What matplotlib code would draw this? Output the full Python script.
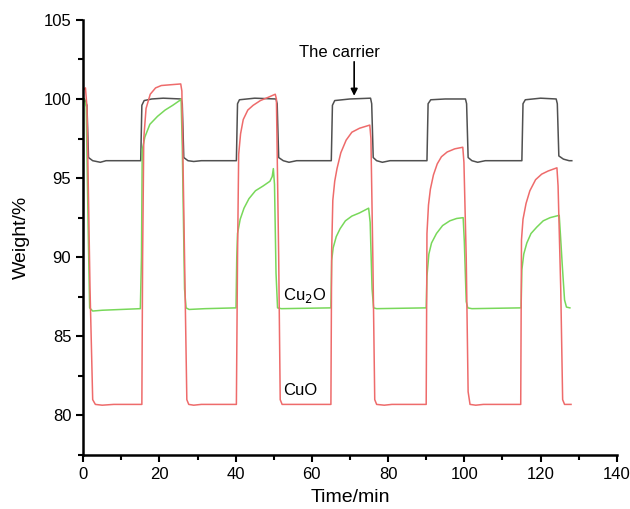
import numpy as np
import matplotlib
matplotlib.use("Agg")
import matplotlib.pyplot as plt
from matplotlib.ticker import MultipleLocator

plt.rcParams['font.family'] = ['Liberation Sans', 'DejaVu Sans']

# --- data (time in min, weight in %) ---
carrier_t = [0.3, 1.0, 1.4, 2.5, 4.5, 6, 15.1, 15.4, 16.0, 18, 21, 25.7, 26.0, 26.4, 27.5, 29, 31,
             40.2, 40.5, 41, 45, 50.6, 50.9, 51.3, 52.5, 54, 56,
             65.1, 65.4, 66, 70, 75.4, 75.7, 76.1, 77, 78.5, 80.5,
             90.2, 90.5, 91.2, 95, 100.3, 100.6, 101, 102, 103.5, 105.5,
             115.1, 115.4, 116, 120, 124.1, 124.4, 124.8, 126, 127.5, 128.2]
carrier_w = [100.0, 99.6, 96.3, 96.1, 96.0, 96.1, 96.1, 99.6, 99.9, 100.0, 100.05, 100.0, 99.7, 96.3, 96.1, 96.05, 96.1,
             96.1, 99.7, 99.95, 100.05, 100.0, 99.7, 96.3, 96.1, 96.0, 96.1,
             96.1, 99.6, 99.9, 100.0, 100.05, 99.7, 96.3, 96.1, 96.0, 96.1,
             96.1, 99.7, 99.95, 100.0, 100.0, 99.7, 96.3, 96.1, 96.0, 96.1,
             96.1, 99.7, 99.95, 100.05, 100.0, 99.7, 96.4, 96.2, 96.1, 96.1]

cuo_t = [0.2, 0.6, 1.0, 1.8, 2.5, 3.2, 5, 8, 15.4, 15.6, 15.9, 16.5, 17.6, 19, 20.5, 23, 25.6, 25.9, 26.6, 27.2, 27.7, 29, 31,
         40.2, 40.5, 40.8, 41.3, 42, 43.2, 44.6, 46.5, 48.5, 50.4, 50.7, 51.3, 51.7, 52.2, 54,
         65.0, 65.2, 65.5, 66.0, 66.6, 67.6, 69, 70.5, 72.5, 75.2, 75.5, 76.0, 76.5, 77, 79, 81,
         90.0, 90.2, 90.6, 91.1, 91.9, 92.9, 94, 95.5, 97.5, 99.6, 99.9, 100.5, 101, 101.5, 103, 105,
         114.8, 115.0, 115.4, 116.2, 117.2, 118.7, 120.3, 122, 124.3, 124.6, 125.3, 125.8, 126.3, 128.0]
cuo_w = [100.6, 100.7, 99.5, 88, 81.0, 80.7, 80.65, 80.7, 80.7, 90, 97.5, 99.4, 100.3, 100.7, 100.85, 100.9, 100.95, 100.5, 90, 81, 80.7, 80.65, 80.7,
         80.7, 90, 96.5, 97.8, 98.7, 99.3, 99.6, 99.9, 100.1, 100.3, 100.0, 90, 81, 80.7, 80.7,
         80.7, 90.4, 93.6, 94.8, 95.6, 96.6, 97.4, 97.9, 98.15, 98.35, 97.5, 90, 81, 80.7, 80.65, 80.7,
         80.7, 91.5, 93.3, 94.3, 95.2, 95.9, 96.35, 96.65, 96.85, 96.95, 96.0, 90, 81.5, 80.7, 80.65, 80.7,
         80.7, 91.1, 92.4, 93.4, 94.2, 94.9, 95.25, 95.45, 95.65, 94.5, 88, 81, 80.7, 80.7]

cu2o_t = [0.3, 0.8, 1.3, 1.7, 2.5, 5, 10, 15.0, 15.3, 15.5, 16.2, 17.5, 19.5, 21.5, 23.5, 25.3, 25.7, 26.0, 26.6, 27.0, 27.8, 32,
          40.1, 40.3, 40.5, 41.2, 42.2, 43.5, 45.2, 47.2, 49.0, 49.6, 49.9, 50.2, 50.6, 51.0, 52,
          65.0, 65.2, 65.6, 66.4, 67.4, 68.8, 70.5, 72.5, 74.9, 75.3, 75.8, 76.2, 77,
          90.0, 90.2, 90.7, 91.4, 92.7, 94.3, 96.2, 98, 99.7, 100.0, 100.5, 100.9, 102,
          114.9, 115.1, 115.6, 116.4, 117.5, 119, 120.7, 122.5, 124.9, 125.2, 125.7, 126.3, 126.8, 127.7]
cu2o_w = [100.0, 99.5, 92, 86.8, 86.6, 86.65, 86.7, 86.75, 90, 96.8, 97.6, 98.4, 98.9, 99.3, 99.6, 99.9, 100.0, 97, 88, 86.8, 86.7, 86.75,
          86.8, 90, 91.5, 92.4, 93.1, 93.7, 94.2, 94.5, 94.8, 95.1, 95.6, 94.6, 89, 86.8, 86.75,
          86.8, 89.8, 90.6, 91.3, 91.8, 92.3, 92.6, 92.8, 93.1, 92.2, 88, 86.8, 86.75,
          86.8, 88.8, 90.2, 90.9, 91.5, 92.0, 92.3, 92.45, 92.5, 91, 87.2, 86.8, 86.75,
          86.8, 89.2, 90.2, 90.9, 91.5, 91.9, 92.3, 92.5, 92.65, 91.5, 89.5, 87.3, 86.85, 86.8]

fig = plt.figure(figsize=(6.3, 5.09), dpi=100)
ax = fig.add_axes([0.132, 0.106, 0.847, 0.855])

ax.plot(carrier_t, carrier_w, color='#505050', lw=1.1)
ax.plot(cu2o_t, cu2o_w, color='#78d85a', lw=1.1)
ax.plot(cuo_t, cuo_w, color='#ee6b6b', lw=1.1)

ax.set_xlim(0, 140)
ax.set_ylim(77.5, 105)
ax.xaxis.set_major_locator(MultipleLocator(20))
ax.xaxis.set_minor_locator(MultipleLocator(10))
ax.yaxis.set_major_locator(MultipleLocator(5))
ax.yaxis.set_minor_locator(MultipleLocator(2.5))

for s in ['top', 'right']:
    ax.spines[s].set_visible(False)
for s in ['left', 'bottom']:
    ax.spines[s].set_linewidth(1.8)

ax.tick_params(which='major', direction='out', length=5, width=1.5, labelsize=12)
ax.tick_params(which='minor', direction='out', length=3.5, width=1.5)

ax.set_xlabel('Time/min', fontsize=14, labelpad=5)
ax.set_ylabel('Weight/%', fontsize=14, labelpad=10)

# label and vertical arrow pointing at the carrier curve
ax.text(67.2, 102.66, 'The carrier', fontsize=12, ha='center', va='baseline')
ax.annotate('', xy=(71.1, 100.2), xytext=(71.1, 102.35),
            arrowprops=dict(arrowstyle='-|>', color='black', lw=1.2, mutation_scale=10,
                            shrinkA=0, shrinkB=0))
ax.text(52.4, 87.28, 'Cu$_2$O', fontsize=12, ha='left', va='baseline')
ax.text(52.4, 81.27, 'CuO', fontsize=12, ha='left', va='baseline')

fig.savefig('out.png', dpi=100)
